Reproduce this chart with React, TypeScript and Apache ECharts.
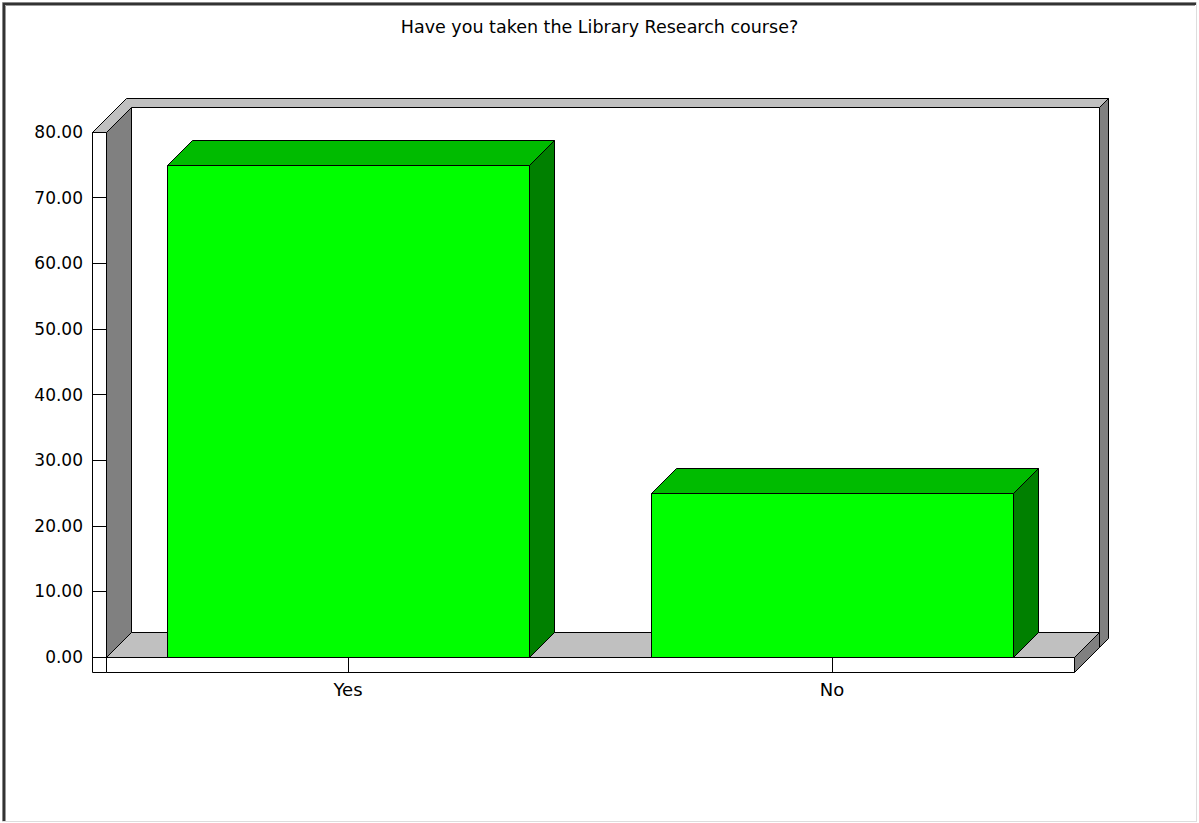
import React, { useEffect, useRef } from "react";
import * as echarts from "echarts";

const titleText = "Have you taken the Library Research course?";
const categories = ["Yes", "No"];
const percentValues = [75, 25];
const yMin = 0;
const yMax = 80;
const yInterval = 10;

export default function App() {
  const ref = useRef<HTMLDivElement>(null);
  useEffect(() => {
    if (!ref.current) return;
    const chart = echarts.init(ref.current, null, { renderer: "svg" });
    const L = 106, R = 1074, T = 132, B = 657, D = 25;
    const W = 1199, H = 823;
    const h = (v: number) => v + 0.5;
    const black = "#000";
    const poly = (pts: number[][], fill: string, z = 0) => ({
      type: "polygon",
      z,
      shape: { points: pts.map(([x, y]) => [h(x), h(y)]) },
      style: { fill, stroke: black, lineWidth: 1 },
      silent: true,
    });
    const graphics: any[] = [
      // outer sunken frame
      { type: "line", shape: { x1: 2.5, y1: 2.5, x2: W - 2, y2: 2.5 }, style: { stroke: "#888", lineWidth: 1 } },
      { type: "line", shape: { x1: 2.5, y1: 2.5, x2: 2.5, y2: H - 1 }, style: { stroke: "#888", lineWidth: 1 } },
      { type: "line", shape: { x1: 3, y1: 4, x2: W - 3, y2: 4 }, style: { stroke: "#333", lineWidth: 2 } },
      { type: "line", shape: { x1: 4, y1: 3, x2: 4, y2: H - 2 }, style: { stroke: "#333", lineWidth: 2 } },
      { type: "line", shape: { x1: 5.5, y1: 5.5, x2: W - 4, y2: 5.5 }, style: { stroke: "#999", lineWidth: 1 } },
      { type: "line", shape: { x1: 5.5, y1: 5.5, x2: 5.5, y2: H - 2 }, style: { stroke: "#999", lineWidth: 1 } },
      { type: "line", shape: { x1: W - 2.5, y1: 2, x2: W - 2.5, y2: H - 1 }, style: { stroke: "#ddd", lineWidth: 1 } },
      { type: "line", shape: { x1: 2, y1: H - 1.5, x2: W - 2, y2: H - 1.5 }, style: { stroke: "#ddd", lineWidth: 1 } },
      // back wall interior
      poly([[L + D, T - D], [R + D, T - D], [R + D, B - D], [L + D, B - D]], "#fff"),
      // left wall side face
      poly([[L, T], [L + D, T - D], [L + D, B - D], [L, B]], "#808080"),
      // top edge of left and back wall
      poly([[92, T], [92 + D + 9, T - D - 9], [R + D + 9, T - D - 9], [R + D, T - D], [L + D, T - D], [L, T]], "#c0c0c0"),
      // right strip
      poly([[R + D, T - D], [R + D + 9, T - D - 9], [R + D + 9, B - D + 6], [R + D, B - D + 15]], "#808080"),
      // floor top
      poly([[L, B], [L + D, B - D], [R + D, B - D], [R, B]], "#c0c0c0"),
      // floor right face
      poly([[R, B], [R + D, B - D], [R + D, B - D + 15], [R, B + 15]], "#808080"),
      // floor front strip
      poly([[L, B], [R, B], [R, B + 15], [L, B + 15]], "#fff"),
      // y front strip
      poly([[92, T], [L, T], [L, B + 15], [92, B + 15]], "#fff"),
      {
        type: "text",
        left: "center",
        top: 18,
        style: { text: titleText, font: "17.5px 'DejaVu Sans'", fill: "#000" },
      },
    ];

    chart.setOption({
      animation: false,
      backgroundColor: "#fff",
      grid: { left: L, top: T, width: R - L, height: B - T, containLabel: false },
      xAxis: {
        type: "category",
        data: categories,
        axisLine: { show: false },
        axisTick: { show: true, alignWithLabel: true, length: 15, lineStyle: { color: "#000" } },
        axisLabel: { margin: 23, color: "#000", fontFamily: "DejaVu Sans", fontSize: 18 },
        splitLine: { show: false },
        z: 5,
      },
      yAxis: {
        type: "value",
        min: yMin,
        max: yMax,
        interval: yInterval,
        axisLine: { show: false },
        axisTick: { show: true, length: 14, lineStyle: { color: "#000" } },
        axisLabel: {
          margin: 23,
          color: "#000",
          fontFamily: "DejaVu Sans",
          fontSize: 17,
          formatter: (v: number) => v.toFixed(2),
        },
        splitLine: { show: false },
        z: 5,
      },
      graphic: { elements: graphics },
      series: [
        {
          type: "custom",
          z: 3,
          data: percentValues.map((v, i) => [i, v]),
          encode: { x: 0, y: 1 },
          renderItem: (params: any, api: any) => {
            const idx = api.value(0);
            const val = api.value(1);
            const top = api.coord([idx, val]);
            const base = api.coord([idx, 0]);
            const bw = api.size([1, 0])[0] * 0.746;
            const x0 = Math.round(top[0] - bw / 2) + 0.5;
            const x1 = Math.round(top[0] + bw / 2) + 0.5;
            const yT = Math.round(top[1]) + 0.5;
            const yB = Math.round(base[1]) + 0.5;
            const st = (fill: string) => ({ fill, stroke: "#000", lineWidth: 1 });
            return {
              type: "group",
              children: [
                { type: "polygon", shape: { points: [[x0, yT], [x0 + D, yT - D], [x1 + D, yT - D], [x1, yT]] }, style: st("#00bb00") },
                { type: "polygon", shape: { points: [[x1, yT], [x1 + D, yT - D], [x1 + D, yB - D], [x1, yB]] }, style: st("#008000") },
                { type: "rect", shape: { x: x0, y: yT, width: x1 - x0, height: yB - yT }, style: st("#00ff00") },
              ],
            };
          },
        },
      ],
    });
    return () => chart.dispose();
  }, []);
  return <div ref={ref} style={{ position: "absolute", left: 0, top: 0, width: 1199, height: 823 }} />;
}
